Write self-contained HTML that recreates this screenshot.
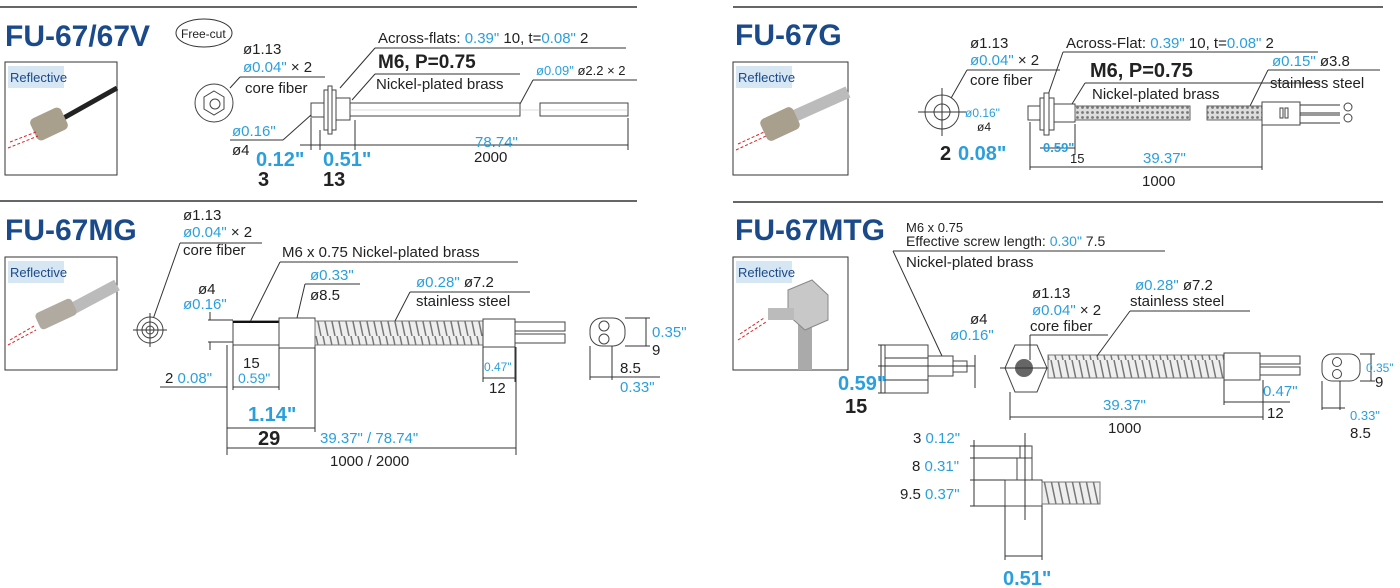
<!DOCTYPE html>
<html><head><meta charset="utf-8"><style>
html,body{margin:0;padding:0;background:#fff}
svg{display:block}
text{font-family:"Liberation Sans",sans-serif;fill:#222}
.t{font-size:30px;font-weight:bold;fill:#1b4a8a}
.s{font-size:15px}
.b{fill:#2b9fdc}
.big{font-size:20px;font-weight:bold}
.ln{stroke:#999;stroke-width:2;fill:none}
.k{stroke:#333;stroke-width:1;fill:none}
.p{stroke:#444;stroke-width:1;fill:#fff}
.rf{font-size:13px;fill:#1b4a8a}
</style></head><body>
<svg width="1400" height="588" viewBox="0 0 1400 588" xmlns="http://www.w3.org/2000/svg">
<defs>
<pattern id="sp" width="7" height="24" patternUnits="userSpaceOnUse"><rect width="7" height="24" fill="#eee"/><path d="M1 0 L6 24" stroke="#777" stroke-width="1.5"/></pattern>
<pattern id="br" width="5" height="5" patternUnits="userSpaceOnUse"><rect width="5" height="5" fill="#ddd"/><circle cx="2.5" cy="2.5" r="1.4" fill="#777"/></pattern>
</defs>
<line x1="0" y1="7" x2="637" y2="7" stroke="#666" stroke-width="2"/>
<line x1="733" y1="7" x2="1383" y2="7" stroke="#666" stroke-width="2"/>
<line x1="0" y1="201" x2="637" y2="201" stroke="#666" stroke-width="2"/>
<line x1="733" y1="202" x2="1383" y2="202" stroke="#666" stroke-width="2"/>

<g>
<rect x="5" y="62" width="112" height="113" fill="#fff" stroke="#333"/>
<rect x="8" y="66" width="56" height="22" fill="#d6e6f3"/><text x="10" y="82" class="rf">Reflective</text>
<path d="M117 88 L60 120" stroke="#222" stroke-width="5"/>
<rect x="32" y="112" width="34" height="24" rx="5" fill="#a89f8c" transform="rotate(-25 49 124)"/>
<path d="M8 148 L38 136 M10 142 L36 132" stroke="#d22" stroke-dasharray="3,2"/>

<rect x="733" y="62" width="115" height="113" fill="#fff" stroke="#333"/>
<rect x="736" y="66" width="56" height="22" fill="#d6e6f3"/><text x="738" y="82" class="rf">Reflective</text>
<path d="M848 92 L790 118" stroke="#bbb" stroke-width="12"/>
<rect x="762" y="112" width="36" height="24" rx="5" fill="#a89f8c" transform="rotate(-25 780 124)"/>
<path d="M736 150 L766 136 M738 144 L764 132" stroke="#d22" stroke-dasharray="3,2"/>

<rect x="5" y="257" width="112" height="113" fill="#fff" stroke="#333"/>
<rect x="8" y="261" width="56" height="22" fill="#d6e6f3"/><text x="10" y="277" class="rf">Reflective</text>
<path d="M117 285 L70 310" stroke="#bbb" stroke-width="12"/>
<rect x="36" y="305" width="40" height="18" rx="4" fill="#b0aaa0" transform="rotate(-25 56 314)"/>
<path d="M8 345 L36 330 M10 340 L34 326" stroke="#d22" stroke-dasharray="3,2"/>

<rect x="733" y="257" width="115" height="113" fill="#fff" stroke="#333"/>
<rect x="736" y="261" width="56" height="22" fill="#d6e6f3"/><text x="738" y="277" class="rf">Reflective</text>
<rect x="798" y="320" width="14" height="50" fill="#aaa"/>
<polygon points="788,290 812,280 828,295 828,320 805,330 788,315" fill="#c8c8c8" stroke="#888"/>
<rect x="768" y="308" width="26" height="12" fill="#bbb"/>
<path d="M738 340 L766 322 M740 334 L764 318" stroke="#d22" stroke-dasharray="3,2"/>
</g>

<!-- FU-67/67V -->
<text x="5" y="46" class="t">FU-67/67V</text>
<ellipse cx="204" cy="33" rx="28" ry="14" fill="#fff" stroke="#333"/>
<text x="181" y="38" style="font-size:12px">Free-cut</text>
<text x="243" y="54" class="s">ø1.13</text>
<text x="243" y="72" class="s"><tspan class="b">ø0.04"</tspan> × 2</text>
<line x1="240" y1="77" x2="325" y2="77" class="ln"/>
<text x="245" y="93" class="s">core fiber</text>
<line x1="230" y1="88" x2="240" y2="77" class="k"/>
<circle cx="214" cy="103" r="19" class="p"/>
<polygon points="214,91 224,97 224,109 214,115 204,109 204,97" class="p"/>
<circle cx="215" cy="104" r="5" class="p"/>
<text x="378" y="43" class="s">Across-flats: <tspan class="b">0.39"</tspan> 10, t=<tspan class="b">0.08"</tspan> 2</text>
<line x1="375" y1="48" x2="626" y2="48" class="ln"/>
<line x1="375" y1="48" x2="340" y2="88" class="k"/>
<text x="378" y="68" style="font-size:19px;font-weight:bold">M6, P=0.75</text>
<line x1="375" y1="74" x2="520" y2="74" class="ln"/>
<line x1="375" y1="74" x2="352" y2="100" class="k"/>
<text x="376" y="89" class="s">Nickel-plated brass</text>
<text x="536" y="75" style="font-size:13px"><tspan class="b">ø0.09"</tspan> ø2.2 × 2</text>
<line x1="533" y1="80" x2="637" y2="80" class="ln"/>
<line x1="533" y1="80" x2="520" y2="104" class="k"/>
<rect x="311" y="103" width="13" height="14" class="p"/>
<rect x="324" y="90" width="12" height="40" class="p"/>
<rect x="328" y="86" width="4" height="48" class="p"/>
<rect x="336" y="98" width="14" height="22" class="p"/>
<rect x="350" y="103" width="170" height="13" class="p"/>
<rect x="540" y="103" width="88" height="13" class="p"/>
<line x1="350" y1="110" x2="628" y2="110" stroke="#bbb" stroke-width="0.6"/>
<path d="M311 118 L311 150 M320 130 L320 150 M355 120 L355 150 M628 118 L628 150" class="k"/>
<line x1="300" y1="145" x2="628" y2="145" class="k"/>
<text x="475" y="147" class="s b">78.74"</text>
<text x="474" y="162" class="s">2000</text>
<text x="232" y="136" class="s b">ø0.16"</text>
<line x1="230" y1="140" x2="283" y2="140" class="ln"/>
<line x1="283" y1="140" x2="311" y2="115" class="k"/>
<text x="232" y="155" class="s">ø4</text>
<text x="256" y="166" class="big b">0.12"</text>
<text x="258" y="186" class="big">3</text>
<text x="323" y="166" class="big b">0.51"</text>
<text x="323" y="186" class="big">13</text>

<!-- FU-67G -->
<text x="735" y="45" class="t">FU-67G</text>
<text x="970" y="48" class="s">ø1.13</text>
<text x="970" y="65" class="s"><tspan class="b">ø0.04"</tspan> × 2</text>
<line x1="967" y1="70" x2="1060" y2="70" class="ln"/>
<line x1="967" y1="70" x2="950" y2="100" class="k"/>
<text x="970" y="85" class="s">core fiber</text>
<circle cx="942" cy="112" r="17" class="p"/>
<circle cx="942" cy="112" r="8" class="p"/>
<path d="M918 112 L966 112 M942 88 L942 136" class="k"/>
<text x="1066" y="48" class="s">Across-Flat: <tspan class="b">0.39"</tspan> 10, t=<tspan class="b">0.08"</tspan> 2</text>
<line x1="1063" y1="52" x2="1318" y2="52" class="ln"/>
<line x1="1063" y1="52" x2="1048" y2="95" class="k"/>
<text x="1090" y="77" style="font-size:20px;font-weight:bold">M6, P=0.75</text>
<line x1="1085" y1="83" x2="1320" y2="83" class="ln"/>
<line x1="1085" y1="83" x2="1072" y2="104" class="k"/>
<text x="1092" y="99" class="s">Nickel-plated brass</text>
<text x="1272" y="66" class="s"><tspan class="b">ø0.15"</tspan> ø3.8</text>
<line x1="1268" y1="70" x2="1380" y2="70" class="ln"/>
<line x1="1268" y1="70" x2="1250" y2="106" class="k"/>
<text x="1270" y="88" class="s">stainless steel</text>
<text x="965" y="117" style="font-size:12px" class="b">ø0.16"</text>
<text x="977" y="131" style="font-size:12px">ø4</text>
<rect x="1028" y="106" width="12" height="14" class="p"/>
<rect x="1040" y="98" width="14" height="32" class="p"/>
<rect x="1044" y="93" width="5" height="42" class="p"/>
<rect x="1054" y="104" width="21" height="18" class="p"/>
<rect x="1075" y="106" width="115" height="14" fill="url(#br)" stroke="#666"/>
<rect x="1207" y="106" width="55" height="14" fill="url(#br)" stroke="#666"/>
<rect x="1262" y="102" width="38" height="23" class="p"/>
<rect x="1280" y="108" width="3" height="10" class="p"/><rect x="1285" y="108" width="3" height="10" class="p"/>
<path d="M1300 105 H1340 M1300 113 H1340 M1300 115 H1340 M1300 123 H1340" class="k"/>
<circle cx="1348" cy="107" r="4" class="p"/><circle cx="1348" cy="118" r="4" class="p"/>
<path d="M1030 122 V170 M1262 125 V170 M1075 124 V155" class="k"/>
<line x1="1030" y1="167" x2="1262" y2="167" class="k"/>
<line x1="1040" y1="148" x2="1075" y2="148" class="k"/>
<text x="940" y="160" class="big">2</text>
<text x="958" y="160" class="big b">0.08"</text>
<text x="1043" y="152" style="font-size:13px;font-weight:bold" class="b">0.59"</text>
<text x="1070" y="163" style="font-size:13px">15</text>
<text x="1143" y="163" class="s b">39.37"</text>
<text x="1142" y="186" class="s">1000</text>

<!-- FU-67MG -->
<text x="5" y="240" class="t">FU-67MG</text>
<text x="183" y="220" class="s">ø1.13</text>
<text x="183" y="237" class="s"><tspan class="b">ø0.04"</tspan> × 2</text>
<line x1="180" y1="243" x2="262" y2="243" class="ln"/>
<line x1="180" y1="243" x2="152" y2="322" class="k"/>
<text x="183" y="255" class="s">core fiber</text>
<circle cx="150" cy="330" r="13" class="p"/><circle cx="150" cy="330" r="8" class="p"/><circle cx="150" cy="330" r="4" class="p"/>
<path d="M133 330 H167 M150 313 V347" class="k"/>
<text x="282" y="257" class="s">M6 x 0.75  Nickel-plated brass</text>
<line x1="280" y1="262" x2="518" y2="262" class="ln"/>
<line x1="280" y1="262" x2="250" y2="322" class="k"/>
<text x="198" y="294" class="s">ø4</text>
<text x="183" y="309" class="s b">ø0.16"</text>
<path d="M208 320 H233 M208 342 H233 M210 312 V320 M210 342 V350" class="k"/>
<rect x="233" y="321" width="46" height="24" class="p"/>
<line x1="233" y1="322" x2="279" y2="322" stroke="#111" stroke-width="2"/>
<rect x="279" y="318" width="36" height="30" class="p"/>
<rect x="315" y="321" width="168" height="24" fill="url(#sp)" stroke="#777"/>
<rect x="483" y="319" width="32" height="28" class="p"/>
<rect x="515" y="322" width="50" height="9" class="p"/><rect x="515" y="334" width="50" height="9" class="p"/>
<text x="310" y="280" class="s b">ø0.33"</text>
<text x="310" y="300" class="s">ø8.5</text>
<line x1="305" y1="284" x2="360" y2="284" class="ln"/>
<line x1="305" y1="284" x2="297" y2="318" class="k"/>
<text x="416" y="287" class="s"><tspan class="b">ø0.28"</tspan> ø7.2</text>
<line x1="410" y1="292" x2="530" y2="292" class="ln"/>
<line x1="410" y1="292" x2="395" y2="321" class="k"/>
<text x="416" y="306" class="s">stainless steel</text>
<path d="M227 345 V455 M233 345 V390 M279 348 V390 M315 348 V432 M516 347 V455 M483 347 V382 M515 347 V382" class="k"/>
<line x1="233" y1="387" x2="279" y2="387" class="k"/>
<line x1="160" y1="387" x2="227" y2="387" class="k"/>
<text x="243" y="368" class="s">15</text>
<text x="238" y="383" class="s b" style="font-size:14px">0.59"</text>
<text x="165" y="383" class="s">2 <tspan class="b">0.08"</tspan></text>
<line x1="227" y1="428" x2="315" y2="428" class="k"/>
<text x="248" y="421" class="big b">1.14"</text>
<text x="258" y="445" class="big">29</text>
<text x="320" y="443" class="s b">39.37" / 78.74"</text>
<line x1="227" y1="448" x2="516" y2="448" class="k"/>
<text x="330" y="466" class="s">1000 / 2000</text>
<line x1="483" y1="378" x2="515" y2="378" class="k"/>
<text x="484" y="371" style="font-size:12px" class="b">0.47"</text>
<text x="489" y="393" class="s">12</text>
<rect x="590" y="318" width="35" height="28" rx="12" class="p"/>
<circle cx="604" cy="326" r="5" class="p"/><circle cx="604" cy="339" r="5" class="p"/>
<path d="M625 318 H650 M625 346 H650 M646 318 V346 M590 346 V380 M612 346 V380 M590 377 H660" class="k"/>
<text x="652" y="337" class="s b">0.35"</text>
<text x="652" y="355" class="s">9</text>
<text x="620" y="373" class="s">8.5</text>
<text x="620" y="392" class="s b">0.33"</text>

<!-- FU-67MTG -->
<text x="735" y="240" class="t">FU-67MTG</text>
<text x="906" y="232" style="font-size:13px">M6 x 0.75</text>
<text x="906" y="246" style="font-size:14px">Effective screw length: <tspan class="b">0.30"</tspan> 7.5</text>
<line x1="893" y1="251" x2="1165" y2="251" class="ln"/>
<line x1="893" y1="251" x2="942" y2="356" class="k"/>
<text x="906" y="267" class="s">Nickel-plated brass</text>
<rect x="885" y="345" width="43" height="48" class="p"/>
<line x1="885" y1="358" x2="928" y2="358" class="k"/><line x1="885" y1="380" x2="928" y2="380" class="k"/>
<rect x="928" y="356" width="25" height="20" class="p"/>
<rect x="953" y="361" width="14" height="11" class="p"/>
<line x1="878" y1="366" x2="975" y2="366" class="k"/>
<path d="M885 345 H878 M885 393 H878 M881 345 V393" class="k"/>
<text x="838" y="390" class="big b">0.59"</text>
<text x="845" y="413" class="big">15</text>
<text x="970" y="324" class="s">ø4</text>
<text x="950" y="340" class="s b">ø0.16"</text>
<path d="M975 355 V388" class="k"/>
<polygon points="1005,368 1015,345 1037,345 1047,368 1037,392 1015,392" class="p"/>
<circle cx="1024" cy="368" r="9" fill="#666"/>
<line x1="1000" y1="368" x2="1050" y2="368" class="k"/>
<rect x="1048" y="355" width="176" height="23" fill="url(#sp)" stroke="#777"/>
<rect x="1224" y="353" width="36" height="27" class="p"/>
<rect x="1260" y="356" width="40" height="8" class="p"/><rect x="1260" y="367" width="40" height="8" class="p"/>
<text x="1032" y="298" class="s">ø1.13</text>
<text x="1032" y="315" class="s"><tspan class="b">ø0.04"</tspan> × 2</text>
<text x="1030" y="331" class="s">core fiber</text>
<line x1="1030" y1="335" x2="1108" y2="335" class="ln"/>
<line x1="1030" y1="335" x2="1030" y2="360" class="k"/>
<text x="1135" y="290" class="s"><tspan class="b">ø0.28"</tspan> ø7.2</text>
<text x="1130" y="306" class="s">stainless steel</text>
<line x1="1130" y1="311" x2="1250" y2="311" class="ln"/>
<line x1="1130" y1="311" x2="1097" y2="356" class="k"/>
<path d="M1010 392 V420 M1263 380 V420 M1224 380 V405" class="k"/>
<line x1="1010" y1="417" x2="1263" y2="417" class="k"/>
<line x1="1224" y1="402" x2="1290" y2="402" class="k"/>
<text x="1103" y="410" class="s b">39.37"</text>
<text x="1108" y="433" class="s">1000</text>
<text x="1263" y="396" class="s b">0.47"</text>
<text x="1267" y="418" class="s">12</text>
<rect x="1322" y="354" width="38" height="27" rx="10" class="p"/>
<circle cx="1337" cy="362" r="4.5" class="p"/><circle cx="1337" cy="374" r="4.5" class="p"/>
<path d="M1360 354 H1375 M1360 381 H1375 M1371 354 V381 M1322 381 V410 M1340 381 V410 M1322 408 H1345" class="k"/>
<text x="1366" y="372" style="font-size:12px" class="b">0.35"</text>
<text x="1375" y="387" class="s">9</text>
<text x="1350" y="420" style="font-size:13px" class="b">0.33"</text>
<text x="1350" y="438" class="s">8.5</text>
<text x="913" y="443" class="s">3 <tspan class="b">0.12"</tspan></text>
<text x="912" y="471" class="s">8 <tspan class="b">0.31"</tspan></text>
<text x="900" y="499" class="s">9.5 <tspan class="b">0.37"</tspan></text>
<rect x="1020" y="446" width="12" height="34" class="p"/>
<rect x="1017" y="458" width="15" height="22" class="p"/>
<rect x="1005" y="480" width="37" height="26" class="p"/>
<rect x="1042" y="482" width="58" height="22" fill="url(#sp)" stroke="#777"/>
<line x1="1025" y1="433" x2="1025" y2="520" class="k"/>
<path d="M970 446 H1030 M970 458 H1017 M970 480 H1005 M970 506 H1005 M974 440 V506" class="k"/>
<path d="M1005 506 V560 M1042 506 V560" class="k"/>
<line x1="1005" y1="556" x2="1042" y2="556" class="k"/>
<text x="1003" y="585" class="big b">0.51"</text>
</svg>
</body></html>
